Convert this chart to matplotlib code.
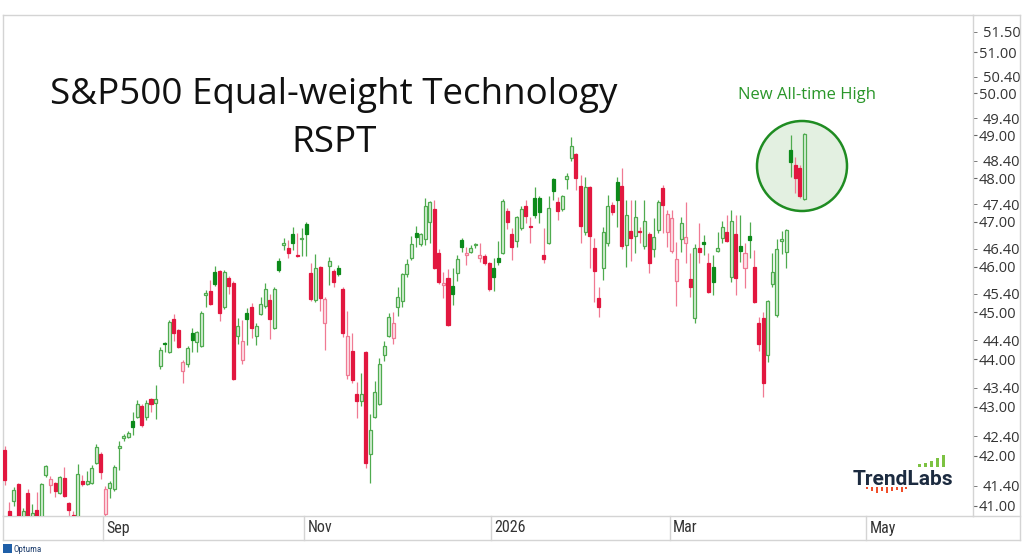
import matplotlib
matplotlib.use("Agg")
import matplotlib.pyplot as plt
import matplotlib.patches as mpatches
from matplotlib import font_manager
from matplotlib.ticker import FixedLocator, FormatStrFormatter
import pandas as pd

# RSPT daily candles, Jul 31 2025 onwards (last four = the circled move)
opens = [
    42.12, 40.90, 41.10, 41.44, 40.60, 41.26, 40.75, 40.92, 40.75, 41.62,
    41.42, 41.46, 41.26, 41.56, 41.06, 40.82, 40.70, 41.50, 41.44, 41.46,
    41.86, 42.04, 40.84, 41.36, 41.34, 42.16, 42.36, 42.38, 42.70, 42.80,
    43.02, 42.78, 43.16, 43.08, 43.86, 44.35, 44.15, 44.86, 44.62, 43.75,
    43.90, 44.56, 44.37, 44.28, 45.38, 45.46, 45.88, 45.90, 45.12, 45.75,
    45.64, 44.49, 43.98, 44.99, 45.12, 44.49, 44.96, 45.14, 45.27, 44.67,
    46.12, 46.48, 46.42, 46.73, 46.26, 46.62, 46.95, 45.86, 45.27, 45.99,
    44.77, 46.02, 45.90, 45.97, 45.51, 43.67, 44.17, 43.27, 43.12, 44.15,
    42.04, 42.79, 43.06, 44.09, 44.49, 44.45, 45.12, 45.25, 45.84, 46.19,
    46.75, 46.51, 46.62, 47.00, 47.29, 46.31, 45.60, 45.75, 45.58, 45.86,
    46.60, 46.26, 46.33, 46.49, 46.19, 46.24, 46.08, 45.97, 46.19, 46.31,
    47.25, 46.73, 46.57, 46.86, 47.36, 46.90, 47.55, 47.55, 46.26, 46.53,
    47.98, 47.45, 47.29, 47.98, 48.47, 48.56, 47.82, 46.77, 47.80, 46.42,
    45.32, 45.97, 46.53, 47.38, 47.91, 47.82, 46.48, 46.80, 46.69, 46.80,
    46.46, 46.73, 46.40, 46.82, 47.78, 46.77, 46.35, 45.69, 46.62, 46.53,
    45.73, 44.88, 46.42, 46.55, 46.08, 45.99, 46.35, 46.64, 46.77, 45.77,
    46.73, 46.46, 45.97, 46.69, 45.99, 44.77, 44.88, 44.09, 45.62, 44.94,
    46.58, 46.33, 48.66, 48.31, 48.24, 47.52,
]
highs = [
    42.20, 41.08, 41.38, 41.46, 40.95, 41.34, 41.04, 41.28, 41.46, 41.82,
    41.60, 41.48, 41.60, 41.78, 41.08, 40.90, 41.84, 41.62, 41.70, 41.82,
    42.24, 42.08, 41.40, 41.50, 41.82, 42.30, 42.44, 42.50, 42.90, 43.14,
    43.06, 43.14, 43.18, 43.45, 44.26, 44.36, 44.84, 44.96, 44.64, 43.98,
    44.28, 44.67, 44.60, 45.03, 45.48, 45.70, 46.01, 45.92, 45.92, 45.80,
    45.68, 44.88, 44.84, 45.09, 45.20, 44.78, 45.33, 45.64, 45.40, 45.55,
    46.19, 46.64, 46.60, 46.88, 46.75, 46.86, 47.00, 46.08, 46.28, 46.02,
    45.33, 46.21, 45.94, 46.04, 45.55, 45.03, 44.56, 43.52, 43.70, 44.17,
    42.85, 43.54, 44.02, 44.39, 44.99, 45.00, 45.55, 45.86, 46.17, 46.69,
    46.91, 46.76, 47.55, 47.48, 47.50, 46.40, 45.88, 45.95, 45.97, 46.26,
    46.64, 46.44, 46.49, 46.53, 46.53, 46.28, 46.10, 46.19, 46.57, 47.52,
    47.31, 46.86, 47.13, 47.36, 47.50, 47.11, 47.79, 47.58, 46.86, 47.59,
    48.00, 47.57, 47.62, 48.12, 48.96, 48.59, 48.07, 48.03, 47.82, 46.64,
    45.55, 46.88, 47.62, 47.45, 48.03, 48.24, 47.50, 47.50, 47.50, 46.89,
    47.50, 46.77, 47.09, 47.50, 47.84, 47.27, 47.27, 46.55, 47.11, 47.45,
    46.31, 46.51, 46.98, 46.71, 46.31, 46.26, 46.77, 47.02, 47.16, 47.27,
    47.16, 47.16, 46.53, 47.00, 46.37, 44.90, 45.01, 45.27, 46.31, 46.62,
    46.80, 46.84, 49.00, 48.49, 48.31, 49.05,
]
lows = [
    41.42, 40.50, 41.00, 40.50, 40.50, 40.60, 40.70, 40.70, 40.70, 41.58,
    41.26, 41.18, 41.24, 41.18, 40.70, 40.60, 40.60, 41.40, 41.42, 41.44,
    41.84, 41.54, 40.75, 41.16, 41.30, 41.72, 42.30, 42.36, 42.42, 42.76,
    42.58, 42.72, 42.90, 42.74, 43.78, 44.14, 44.12, 44.39, 44.24, 43.50,
    43.84, 44.15, 44.15, 44.26, 45.12, 45.15, 45.58, 44.82, 45.08, 45.40,
    43.55, 44.32, 43.90, 44.30, 44.45, 44.30, 44.94, 45.10, 44.43, 44.65,
    45.88, 46.37, 46.19, 46.37, 46.22, 46.24, 46.24, 45.25, 45.22, 45.03,
    44.19, 45.60, 45.55, 45.80, 44.47, 43.58, 43.50, 42.77, 43.01, 41.76,
    41.46, 42.76, 43.03, 43.96, 44.47, 44.32, 44.92, 45.12, 45.78, 46.15,
    46.44, 46.46, 46.48, 46.53, 45.95, 45.62, 45.32, 44.70, 45.16, 45.68,
    46.33, 46.04, 46.30, 46.42, 46.10, 46.04, 45.47, 45.47, 46.04, 46.28,
    46.84, 46.15, 46.44, 46.82, 46.98, 46.53, 47.10, 46.97, 46.08, 46.50,
    47.50, 47.04, 47.25, 47.75, 48.40, 47.73, 46.53, 46.70, 45.97, 45.23,
    44.90, 45.71, 46.46, 47.15, 46.88, 46.40, 46.00, 46.12, 46.31, 46.53,
    46.40, 45.86, 46.22, 46.75, 46.75, 46.44, 46.30, 45.14, 46.33, 46.08,
    45.34, 44.77, 46.08, 46.26, 45.43, 45.38, 46.33, 46.53, 46.55, 45.66,
    45.38, 46.10, 45.53, 46.19, 45.20, 44.17, 43.21, 43.94, 45.56, 44.90,
    46.28, 45.97, 48.03, 47.66, 47.55, 47.50,
]
closes = [
    41.52, 40.60, 41.32, 40.60, 40.90, 40.70, 40.85, 40.78, 41.44, 41.80,
    41.54, 41.30, 41.58, 41.20, 40.92, 40.75, 41.64, 41.44, 41.50, 41.76,
    42.18, 41.68, 41.34, 41.46, 41.78, 42.20, 42.40, 42.46, 42.58, 43.06,
    42.62, 43.08, 43.06, 43.16, 44.20, 44.33, 44.80, 44.56, 44.26, 43.94,
    44.24, 44.41, 44.58, 44.99, 45.42, 45.18, 45.62, 44.99, 45.88, 45.58,
    43.58, 44.71, 44.39, 44.86, 44.67, 44.70, 45.18, 45.51, 44.86, 45.51,
    45.93, 46.53, 46.31, 46.53, 46.24, 46.64, 46.73, 45.29, 45.97, 45.32,
    45.29, 46.12, 45.66, 45.84, 44.56, 44.49, 43.56, 43.12, 43.27, 41.86,
    42.53, 43.31, 43.90, 44.28, 44.90, 44.77, 45.34, 45.84, 46.06, 46.51,
    46.66, 46.73, 47.36, 47.45, 45.97, 45.66, 45.64, 44.73, 45.40, 46.17,
    46.44, 46.31, 46.42, 46.51, 46.26, 46.08, 45.51, 45.77, 46.10, 47.48,
    47.00, 46.44, 47.11, 47.29, 47.13, 46.88, 47.16, 47.22, 46.17, 47.31,
    47.71, 47.25, 47.59, 48.05, 48.75, 48.00, 46.91, 47.80, 46.69, 45.91,
    45.12, 46.77, 47.36, 47.22, 47.50, 46.46, 47.16, 46.64, 47.11, 46.78,
    47.02, 46.08, 46.66, 47.45, 47.38, 47.18, 47.09, 46.17, 46.98, 46.66,
    45.56, 46.42, 46.33, 46.51, 45.45, 45.66, 46.42, 46.89, 46.57, 47.02,
    45.75, 46.35, 46.31, 46.60, 45.23, 44.32, 43.50, 45.25, 45.88, 46.40,
    46.62, 46.82, 48.38, 48.00, 47.59, 49.03,
]

holidays = ["2025-09-01", "2025-11-27", "2025-12-25", "2026-01-01",
            "2026-01-19", "2026-02-16", "2026-04-03", "2026-05-25"]
label_months = [9, 11, 1, 3, 5]
y_major = [41, 42, 43, 44, 45, 46, 47, 48, 49, 50, 51, 52]
y_minor = [41.4, 42.4, 43.4, 44.4, 45.4, 46.4, 47.4, 48.4, 49.4, 50.4, 51.5]

GREEN_DARK = "#0c8a1a"
GREEN_LINE = "#4fab4f"
GREEN_FILL = "#d9efd9"
RED_DARK = "#e2173f"
RED_LINE = "#f07a93"
RED_FILL = "#fde3e9"
FRAME = "#d4d4d4"

W, H = 1024, 554


def fx(x):
    return x / W


def fy(y):
    return 1 - y / H


def pick_font(names, default="DejaVu Sans"):
    have = {f.name for f in font_manager.fontManager.ttflist}
    for n in names:
        if n in have:
            return n
    return default


SANS = pick_font(["Open Sans", "Noto Sans"])
NARROW = pick_font(["Liberation Sans Narrow", "Roboto Condensed", "Liberation Sans"])

days = pd.bdate_range("2025-07-31", "2026-06-30", freq="C", holidays=holidays)
n = len(closes)
xs = list(range(n))

fig = plt.figure(figsize=(W / 100, H / 100), dpi=100)
ax = fig.add_axes([fx(3), fy(516), fx(973) - fx(3), fy(15) - fy(516)])
ax.set_yscale("log")

# candles: hollow when close > open, green when close >= previous close
body_w = 0.66
for i in xs:
    o, h, l, c = opens[i], highs[i], lows[i], closes[i]
    prev = closes[i - 1] if i > 0 else o
    up = c >= prev
    hollow = c > o
    line = GREEN_LINE if up else RED_LINE
    ax.vlines(i, l, h, color=line, linewidth=0.9, zorder=2)
    lo, hi = min(o, c), max(o, c)
    if hi - lo < 0.02:
        hi = lo + 0.02
    if hollow:
        face, edge = (GREEN_FILL, GREEN_LINE) if up else (RED_FILL, RED_LINE)
    else:
        face = edge = GREEN_DARK if up else RED_DARK
    ax.add_patch(mpatches.Rectangle((i - body_w / 2, lo), body_w, hi - lo,
                                    facecolor=face, edgecolor=edge,
                                    linewidth=0.9, zorder=3))

ax.set_xlim(-0.39, 211.9)
ax.set_ylim(40.80, 51.92)

ax.yaxis.tick_right()
ax.yaxis.set_major_locator(FixedLocator(y_major))
ax.yaxis.set_minor_locator(FixedLocator(y_minor))
ax.yaxis.set_major_formatter(FormatStrFormatter("%.2f"))
ax.yaxis.set_minor_formatter(FormatStrFormatter("%.2f"))
ax.tick_params(axis="y", which="major", length=3, pad=1, color="#666666",
               labelsize=10.5, labelcolor="#333333", right=True, left=False)
ax.tick_params(axis="y", which="minor", length=3, pad=4, color="#666666",
               labelsize=10.5, labelcolor="#333333", right=True, left=False,
               labelright=True)
for lab in ax.get_yticklabels(which="both"):
    lab.set_fontfamily(SANS)
ax.set_xticks([])
for s in ax.spines.values():
    s.set_color(FRAME)
    s.set_linewidth(1.0)

# month strip under the plot
strip = 24 / 501
xt = ax.get_xaxis_transform()
for i, d in enumerate(days):
    if i == 0 or d.month == days[i - 1].month or d.month not in label_months:
        continue
    xd = i - 0.5
    ax.plot([xd, xd], [0, -strip], transform=xt, color=FRAME, lw=1.0,
            clip_on=False)
    lab = str(d.year) if d.month == 1 else d.strftime("%b")
    ax.text(xd + 0.7, -strip / 2, lab, transform=xt, ha="left", va="center",
            fontsize=11.5, color="#333333", family=NARROW)

# outer frame around plot, price scale and month strip
fig.add_artist(plt.Line2D([fx(3), fx(1020)], [fy(540), fy(540)], color=FRAME, lw=1.0))
fig.add_artist(plt.Line2D([fx(973), fx(1020)], [fy(516), fy(516)], color=FRAME, lw=1.0))
fig.add_artist(plt.Line2D([fx(973), fx(1020)], [fy(15), fy(15)], color=FRAME, lw=1.0))
fig.add_artist(plt.Line2D([fx(1020), fx(1020)], [fy(15), fy(540)], color=FRAME, lw=1.0))
fig.add_artist(plt.Line2D([fx(3), fx(3)], [fy(516), fy(540)], color=FRAME, lw=1.0))

# circle round the latest candles
ax.add_patch(mpatches.Ellipse(((802 - 3) / 970, (516 - 166) / 501), 90 / 970, 90 / 501,
                              transform=ax.transAxes, facecolor="#e3f0e1",
                              edgecolor="#1f8c22", linewidth=1.8, zorder=1))

# titles and notes
fig.text(fx(334), fy(104), "S&P500 Equal-weight Technology", ha="center",
         va="baseline", fontsize=26.5, color="#111111", family=SANS)
fig.text(fx(334), fy(152), "RSPT", ha="center", va="baseline", fontsize=26.5,
         color="#111111", family=SANS)
fig.text(fx(807), fy(99), "New All-time High", ha="center", va="baseline",
         fontsize=12, color="#2a962a", family=SANS)

# TrendLabs mark
fig.text(fx(853), fy(485), "TrendLabs", ha="left", va="baseline", fontsize=15,
         fontweight="bold", color="#1c2b40", family=pick_font(["Roboto", "Open Sans"]))
for bx, bh in zip([918, 924, 930, 936, 942], [3, 4, 6, 9, 12]):
    fig.add_artist(mpatches.Rectangle((fx(bx), fy(467)), fx(2.5), bh / H,
                                      facecolor="#7cc242", edgecolor="none"))
for bx, bh in zip([866, 871, 876, 881, 886, 891, 896, 901, 905],
                  [2, 4, 6, 4, 6, 4, 3, 5, 2]):
    fig.add_artist(mpatches.Rectangle((fx(bx), fy(487) - bh / H), fx(2.2), bh / H,
                                      facecolor="#f04e2a", edgecolor="none"))

# Optuma mark
fig.add_artist(mpatches.FancyBboxPatch((fx(3), fy(553)), fx(9), 9 / H,
                                       boxstyle="round,pad=0.0",
                                       facecolor="#1f5fa8", edgecolor="none"))
fig.text(fx(14), fy(552), "Optuma", ha="left", va="baseline", fontsize=6.5,
         color="#1f3f6e", family=NARROW)

fig.savefig("out.png", dpi=100, facecolor="white")
